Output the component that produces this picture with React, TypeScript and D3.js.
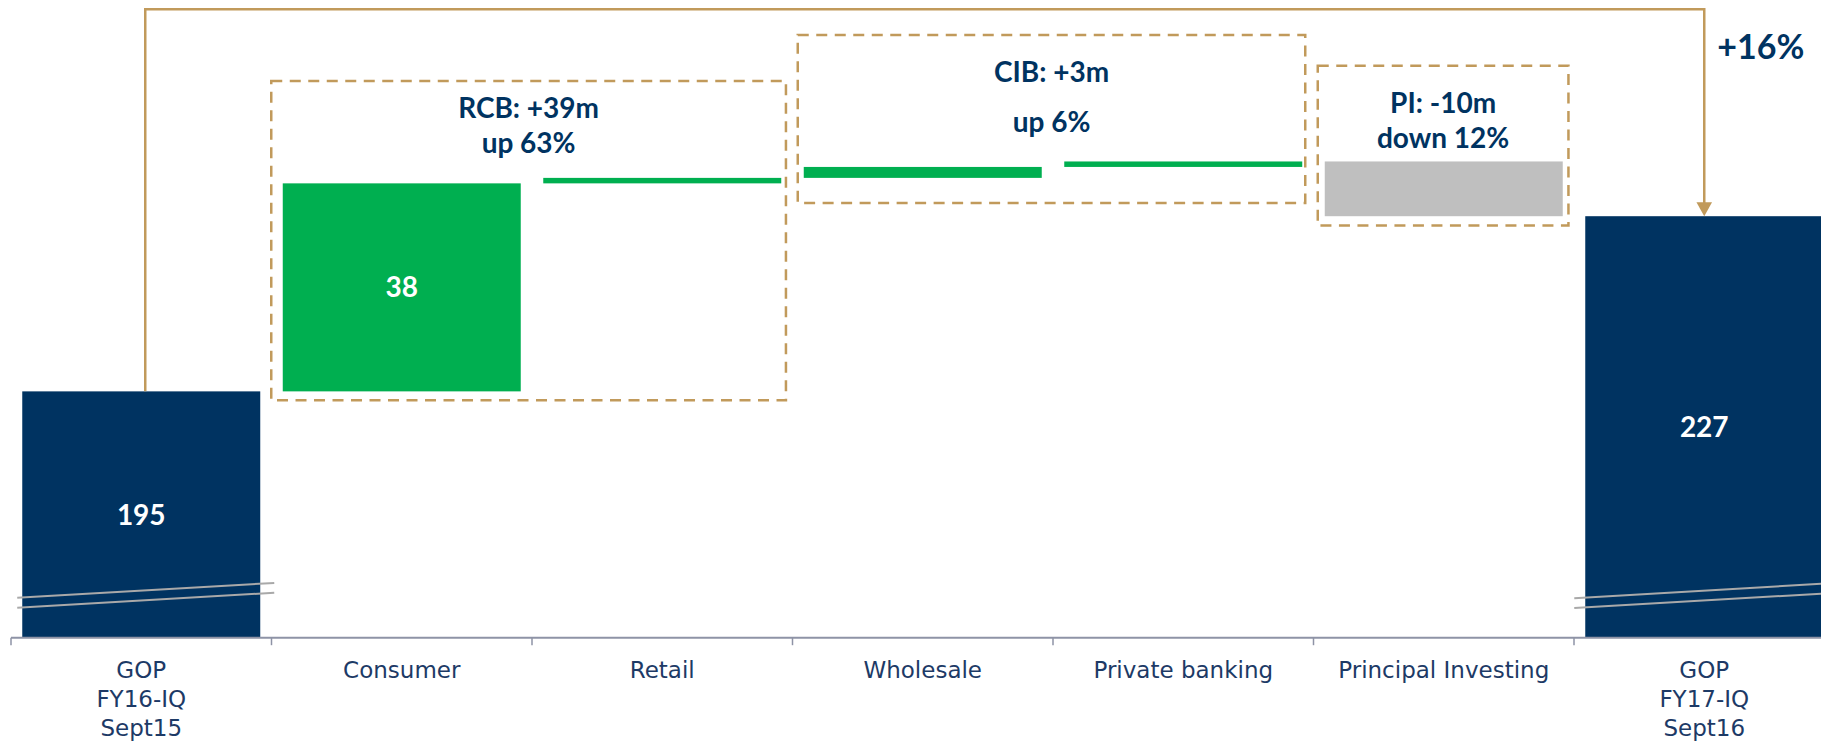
import React from "react";
import * as d3 from "d3";

// ---------- data ----------
const categoryLabels: string[][] = [
  ["GOP", "FY16-IQ", "Sept15"],
  ["Consumer"],
  ["Retail"],
  ["Wholesale"],
  ["Private banking"],
  ["Principal Investing"],
  ["GOP", "FY17-IQ", "Sept16"],
];
const barValues: number[] = [195, 38, 1, 2, 1, -10, 227];
const barKinds: string[] = ["total", "delta", "delta", "delta", "delta", "delta", "total"];
const valueLabels: string[] = ["195", "38", "", "", "", "", "227"];

const groupLabels: string[][] = [
  ["RCB: +39m", "up 63%"],
  ["CIB: +3m", "up 6%"],
  ["PI: -10m", "down 12%"],
];
const groupFrom: number[] = [1, 3, 5];
const groupTo: number[] = [2, 4, 5];
const totalChangeLabel = "+16%";

// axis break (value-space)
const axisBase = 150;
const breakValues: number[] = [158.6, 156.8];

// ---------- layout / style ----------
const W = 1821;
const H = 741;
const NAVY = "#003361";
const GREEN = "#00AF50";
const GREY = "#BFBFBF";
const GOLD = "#C19A5B";
const TEXT = "#003361";
const AXIS_TEXT = "#1d3a66";
const AXIS = "#8E93A6";

const groupBox = [
  { padL: 11.5, padR: 4.7, top: 81, padB: 9, l1: 37.3, l2: 71.7 },
  { padL: 6, padR: 3, top: 35, padB: 25, l1: 46.7, l2: 97 },
  { padL: 7, padR: 5.7, top: 65.7, padB: 9.3, l1: 47, l2: 82 },
];

export default function App() {
  const n = categoryLabels.length;
  const idx = d3.range(n).map(String);
  const x = d3
    .scaleBand<string>()
    .domain(idx)
    .range([11, 11 + 7 * 260.5])
    .paddingInner(0.0864)
    .paddingOuter(0.0432);
  const step = x.step();
  const bw = x.bandwidth();
  const axisY = 637.7;
  const pxPerUnit = 5.474;
  const y = d3
    .scaleLinear()
    .domain([axisBase, axisBase + axisY / pxPerUnit])
    .range([axisY, 0]);

  // waterfall computation
  let running = 0;
  const bars = barValues.map((v, i) => {
    let lo: number, hi: number;
    if (barKinds[i] === "total") {
      lo = axisBase;
      hi = v;
      running = v;
    } else {
      const start = running;
      const end = running + v;
      lo = Math.min(start, end);
      hi = Math.max(start, end);
      running = end;
    }
    const x0 = x(String(i))!;
    const color = barKinds[i] === "total" ? NAVY : v >= 0 ? GREEN : GREY;
    return { i, x0, x1: x0 + bw, yTop: y(hi), yBot: y(lo), color, label: valueLabels[i] };
  });

  const tickXs = d3.range(n + 1).map((i) => 11 + i * step);

  const first = bars[0];
  const last = bars[n - 1];
  const bx0 = (first.x0 + first.x1) / 2 + 4;
  const bx1 = (last.x0 + last.x1) / 2;
  const bracketTop = 9.3;
  const arrowH = 14;
  const arrowW = 7.8;

  const slope = -0.058;

  return (
    <svg
      width={W}
      height={H}
      style={{ position: "absolute", left: 0, top: 0, display: "block", background: "#fff" }}
    >
      {/* bars */}
      {bars.map((b) => (
        <rect
          key={"b" + b.i}
          x={b.x0}
          y={b.yTop}
          width={b.x1 - b.x0}
          height={b.yBot - b.yTop}
          fill={b.color}
        />
      ))}

      {/* break marks on total bars */}
      {[first, last].map((b, k) =>
        breakValues.map((bv, j) => {
          const xs = b.x0 - (k === 0 ? 5 : 11);
          const xe = b.x1 + 14;
          const cx = (b.x0 + b.x1) / 2;
          const cy = y(bv);
          return (
            <line
              key={`br${k}-${j}`}
              x1={xs}
              y1={cy + (xs - cx) * slope}
              x2={xe}
              y2={cy + (xe - cx) * slope}
              stroke="#A9A9A9"
              strokeWidth={2}
            />
          );
        })
      )}

      {/* value labels */}
      {bars
        .filter((b) => b.label)
        .map((b) => (
          <text
            key={"v" + b.i}
            x={(b.x0 + b.x1) / 2}
            y={(b.yTop + b.yBot) / 2}
            dy="0.36em"
            textAnchor="middle"
            fill="#fff"
            fontFamily="Lato, 'Open Sans', sans-serif"
            fontWeight={700}
            fontSize={28}
          >
            {b.label}
          </text>
        ))}

      {/* axis */}
      <line x1={tickXs[0]} x2={W} y1={axisY} y2={axisY} stroke={AXIS} strokeWidth={2} />
      {tickXs.map((tx, i) => (
        <line key={"t" + i} x1={tx} x2={tx} y1={axisY} y2={axisY + 7.5} stroke={AXIS} strokeWidth={1.5} />
      ))}
      {categoryLabels.map((lines, i) => (
        <text
          key={"c" + i}
          x={x(String(i))! + bw / 2}
          textAnchor="middle"
          fill={AXIS_TEXT}
          fontFamily="'DejaVu Sans', sans-serif"
          fontSize={23}
        >
          {lines.map((ln, j) => (
            <tspan key={j} x={x(String(i))! + bw / 2} y={677.7 + j * 29.2}>
              {ln}
            </tspan>
          ))}
        </text>
      ))}

      {/* group dashed boxes */}
      {groupLabels.map((lines, g) => {
        const a = bars[groupFrom[g]];
        const b = bars[groupTo[g]];
        const lay = groupBox[g];
        const members = bars.slice(groupFrom[g], groupTo[g] + 1);
        const bottom = d3.max(members, (m) => m.yBot)!;
        const left = a.x0 - lay.padL;
        const right = b.x1 + lay.padR;
        const cx = (left + right) / 2;
        return (
          <g key={"g" + g}>
            <rect
              x={left}
              y={lay.top}
              width={right - left}
              height={bottom + lay.padB - lay.top}
              fill="none"
              stroke={GOLD}
              strokeWidth={2.5}
              strokeDasharray="11 7.5"
            />
            <text
              textAnchor="middle"
              fill={TEXT}
              fontFamily="Lato, 'Open Sans', sans-serif"
              fontWeight={700}
              fontSize={28}
            >
              <tspan x={cx} y={lay.top + lay.l1}>
                {lines[0]}
              </tspan>
              <tspan x={cx} y={lay.top + lay.l2}>
                {lines[1]}
              </tspan>
            </text>
          </g>
        );
      })}

      {/* bracket with arrow */}
      <path
        d={`M${bx0},${first.yTop} V${bracketTop} H${bx1} V${last.yTop - arrowH + 1}`}
        fill="none"
        stroke={GOLD}
        strokeWidth={2.5}
      />
      <path
        d={`M${bx1 - arrowW},${last.yTop - arrowH} L${bx1 + arrowW},${last.yTop - arrowH} L${bx1},${last.yTop} Z`}
        fill={GOLD}
      />
      <text
        x={bx1 + 13}
        y={59.3}
        fill={TEXT}
        fontFamily="Lato, 'Open Sans', sans-serif"
        fontWeight={700}
        fontSize={34}
      >
        {totalChangeLabel}
      </text>
    </svg>
  );
}
